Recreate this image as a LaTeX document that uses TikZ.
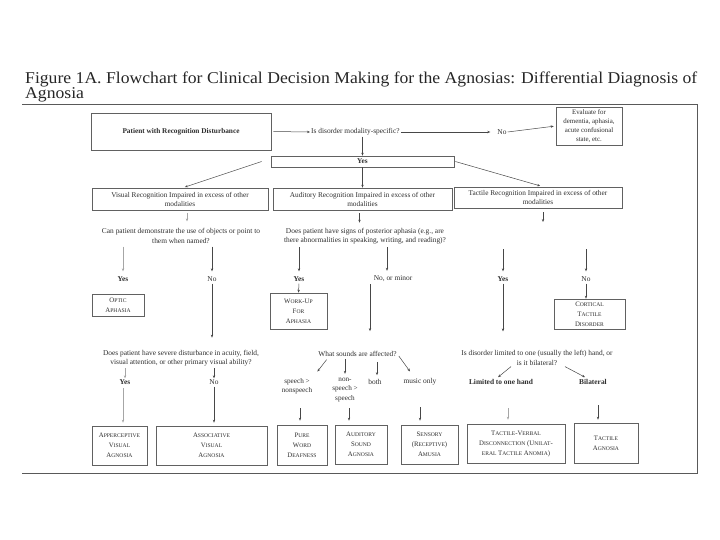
\documentclass[tikz,border=0pt]{standalone}
\usepackage{fontspec}
\setmainfont{Liberation Serif}
\usetikzlibrary{arrows.meta,calc}
\newcommand\sm[1]{{\fontsize{5.6}{6}\selectfont #1}}
\begin{document}
\begin{tikzpicture}[x=1pt,y=-1pt,
  txt/.style={font=\fontsize{7.4}{9.5}\selectfont, text=black!82, inner sep=1pt, align=center},
  box/.style={draw=black!62, line width=0.6pt, font=\fontsize{7.3}{9}\selectfont, text=black!82, inner sep=1pt, align=center},
  sbox/.style={box, font=\fontsize{6.8}{10}\selectfont},
  arr/.style={-{Stealth[length=3pt,width=2.4pt]}, draw=black!72, line width=0.5pt},
  arrf/.style={arr, draw=black!35},
  frame/.style={draw=black!65, line width=0.7pt},
  ttl/.style={anchor=base west, inner sep=0, font=\fontsize{16.5}{16.5}\selectfont, text=black!85}
]
\useasboundingbox (0,0) rectangle (720,540);
\fill[white] (0,0) rectangle (720,540);

% title
\node[ttl] (t1) at (25,84)
  {\resizebox{672pt}{\height}{Figure 1A. Flowchart for Clinical Decision Making for the Agnosias: Differential Diagnosis of}};
\node[ttl] (t2) at (25,99) {\scalebox{1.07}[1]{Agnosia}};

% frame
\draw[frame] (22,104) -- (697,104) -- (697,473) -- (22,473);

% top part
\node[box, minimum width=180pt, minimum height=37pt] (pat) at (181,131.5) {\textbf{Patient with Recognition Disturbance}};
\node[txt, anchor=west] (q0) at (310,132) {Is disorder modality-specific?};
\node[txt] (no0) at (502,132) {No};
\node[box, minimum width=66pt, minimum height=38pt, font=\fontsize{6.9}{9}\selectfont] (eval) at (589,126)
  {Evaluate for\\dementia, aphasia,\\acute confusional\\state, etc.};
\node[box, minimum width=183pt, minimum height=11pt, inner sep=0pt] (yes0) at (362.5,161.5) {\textbf{Yes}};

\draw[arr, shorten <=2pt] (pat.east) -- (q0.west);
\draw[arr, shorten >=6pt] (q0.east) -- (no0.west);
\draw[arr, shorten >=2pt] (no0.east) -- (eval.west);
\draw[arr] (yes0.north |- q0.south) -- (yes0.north);

% row of modality boxes
\node[box, minimum width=176pt, minimum height=22pt] (vbox) at (180,199)
  {Visual Recognition Impaired in excess of other\\modalities};
\node[box, minimum width=179pt, minimum height=22pt] (abox) at (362.5,199)
  {Auditory Recognition Impaired in excess of other\\modalities};
\node[box, minimum width=168pt, minimum height=21pt] (tbox) at (538,197.5)
  {Tactile Recognition Impaired in excess of other\\modalities};

\draw[arr, shorten >=2pt] ([xshift=-9pt]yes0.west) -- ([xshift=3pt]vbox.north);
\draw[arr] (yes0.south) -- (abox.north);
\draw[arr, shorten >=3pt] ([xshift=1pt]yes0.east) -- ([xshift=5pt]tbox.north);

% first questions
\node[txt] (vq) at (181,236) {Can patient demonstrate the use of objects or point to\\them when named?};
\node[txt] (aq) at (365,236) {Does patient have signs of posterior aphasia (e.g., are\\there abnormalities in speaking, writing, and reading)?};
\coordinate (tend) at (543,222);
\coordinate (vsh) at (187,210);
\coordinate (tstart) at (0,249);

\draw[arrf, shorten <=3pt, shorten >=6pt] (vsh) -- (vsh |- vq.north);
\draw[arr, shorten <=3pt, shorten >=4pt] ([xshift=-3pt]abox.south) -- ([xshift=-3pt]abox.south |- aq.north);
\draw[arr, shorten <=4pt] ([xshift=5pt]tbox.south) -- (tend);

% first answers
\node[txt] (vyes) at (123,279) {\textbf{Yes}};
\node[txt] (vno) at (212,279) {No};
\node[txt] (ayes) at (299,279) {\textbf{Yes}};
\node[txt] (ano) at (393,279) {No, or minor};
\node[txt] (tyes) at (503,279) {\textbf{Yes}};
\node[txt] (tno) at (586,279) {No};
\coordinate (anotop) at (387,279);

\draw[arrf, shorten <=2pt, shorten >=4pt] (vyes |- vq.south) -- (vyes.north);
\draw[arr, shorten <=2pt, shorten >=4pt] (vno |- vq.south) -- (vno.north);
\draw[arr, shorten <=2pt, shorten >=4pt] (ayes |- aq.south) -- (ayes.north);
\draw[arr, shorten <=2pt, shorten >=4pt] (anotop |- aq.south) -- (anotop |- ano.north);
\draw[arr, shorten >=4pt] (tyes |- tstart) -- (tyes.north);
\draw[arr, shorten >=4pt] (tno |- tstart) -- (tno.north);

% first result boxes
\node[sbox, minimum width=52pt, minimum height=22pt] (optic) at (118,305) {O\sm{PTIC}\\A\sm{PHASIA}};
\node[sbox, minimum width=57pt, minimum height=36pt] (workup) at (298.5,311) {W\sm{ORK}-U\sm{P}\\F\sm{OR}\\A\sm{PHASIA}};
\node[sbox, minimum width=71pt, minimum height=30pt] (cortical) at (589.5,314) {C\sm{ORTICAL}\\T\sm{ACTILE}\\D\sm{ISORDER}};

% second questions
\node[txt] (vq2) at (181,358) {Does patient have severe disturbance in acuity, field,\\visual attention, or other primary visual ability?};
\node[txt] (aq2) at (357.5,354) {What sounds are affected?};
\node[txt] (tq2) at (537,358) {Is disorder limited to one (usually the left) hand, or\\is it bilateral?};
\coordinate (anob) at (370,284);

\draw[arr, shorten <=1pt, shorten >=11pt] (vno.south) -- (vno.south |- vq2.north);
\draw[arr, shorten <=1pt] (ayes.south) -- (workup.north);
\draw[arr, shorten >=19pt] (anob) -- (anob |- aq2.north);
\draw[arr, shorten <=1pt, shorten >=18pt] (tyes.south) -- (tyes.south |- tq2.north);
\draw[arr, shorten <=1pt] (tno.south) -- (tno.south |- cortical.north);

% second answers
\node[txt] (vyes2) at (125,382) {\textbf{Yes}};
\node[txt] (vno2) at (214,382) {No};
\node[txt, font=\fontsize{7.2}{9}\selectfont] (s1) at (297,386.5) {speech >\\nonspeech};
\node[txt, font=\fontsize{7.2}{9.5}\selectfont] (s2) at (345,390) {non-\\speech >\\speech};
\node[txt] (s3) at (375,382) {both};
\node[txt] (s4) at (420,382) {music only};
\node[txt] (tl) at (501,382) {\textbf{Limited to one hand}};
\node[txt] (tb) at (593,382) {\textbf{Bilateral}};

\draw[arrf, shorten <=1pt] (vyes2 |- vq2.south) -- (vyes2.north);
\draw[arr, shorten <=1pt] (vno2 |- vq2.south) -- (vno2.north);
\draw[arr, shorten <=1pt] ([shift={(10,1)}]aq2.south west) -- ([shift={(4,-6)}]s1.north east);
\draw[arr, shorten <=1pt, shorten >=3pt] (s2 |- aq2.south) -- (s2.north);
\draw[arr, shorten <=4pt, shorten >=3pt] ([xshift=2pt]s3.north |- aq2.south) -- ([xshift=2pt]s3.north);
\draw[arr] ([shift={(1,2)}]aq2.east) -- ([shift={(-10,-6)}]s4.north);
\draw[arr] ([xshift=-26pt]tq2.south) -- ([shift={(-3,-1)}]tl.north);
\draw[arr] ([xshift=28pt]tq2.south) -- ([shift={(-8,-1)}]tb.north);

% final boxes
\node[sbox, minimum width=55pt, minimum height=39pt] (apperc) at (119.5,445.5) {A\sm{PPERCEPTIVE}\\V\sm{ISUAL}\\A\sm{GNOSIA}};
\node[sbox, minimum width=111pt, minimum height=39pt] (assoc) at (211.5,445.5) {A\sm{SSOCIATIVE}\\V\sm{ISUAL}\\A\sm{GNOSIA}};
\node[sbox, minimum width=50pt, minimum height=40pt] (pure) at (302,445) {P\sm{URE}\\W\sm{ORD}\\D\sm{EAFNESS}};
\node[sbox, minimum width=52pt, minimum height=39pt] (aud) at (361,444.5) {A\sm{UDITORY}\\S\sm{OUND}\\A\sm{GNOSIA}};
\node[sbox, minimum width=57pt, minimum height=39pt] (sens) at (429.5,444.5) {S\sm{ENSORY}\\(R\sm{ECEPTIVE})\\A\sm{MUSIA}};
\node[sbox, minimum width=98pt, minimum height=39pt] (tvd) at (516,443.5) {T\sm{ACTILE}-V\sm{ERBAL}\\D\sm{ISCONNECTION} (U\sm{NILAT}-\\\sm{ERAL} T\sm{ACTILE} A\sm{NOMIA})};
\node[sbox, minimum width=64pt, minimum height=40pt] (tagn) at (606,443) {T\sm{ACTILE}\\A\sm{GNOSIA}};

\coordinate (vyb) at (123,388);
\coordinate (s1b) at (300,408);
\coordinate (s2b) at (349,408);
\coordinate (s4b) at (420,407);
\coordinate (tlb) at (508,408);
\coordinate (tbb) at (598,405);

\draw[arrf, shorten >=3pt] (vyb) -- (vyb |- apperc.north);
\draw[arr, shorten <=1pt, shorten >=3pt] (vno2.south) -- (vno2.south |- assoc.north);
\draw[arr, shorten >=4pt] (s1b) -- (s1b |- pure.north);
\draw[arr, shorten >=4pt] (s2b) -- (s2b |- aud.north);
\draw[arr, shorten >=4pt] (s4b) -- (s4b |- sens.north);
\draw[arrf, shorten >=4pt] (tlb) -- (tlb |- tvd.north);
\draw[arr, shorten >=3pt] (tbb) -- (tbb |- tagn.north);
\end{tikzpicture}
\end{document}
